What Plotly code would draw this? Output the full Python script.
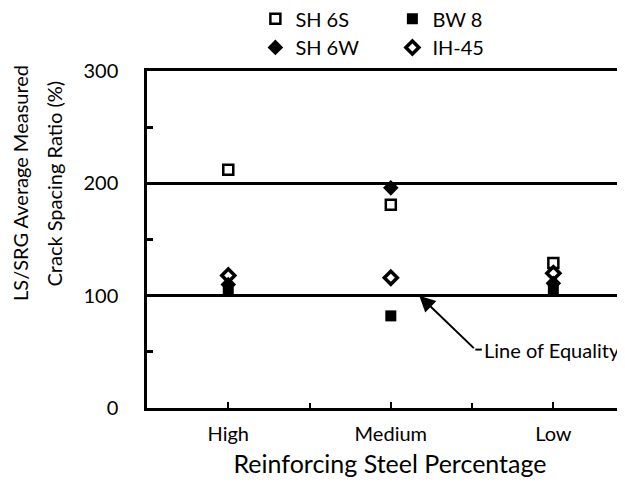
import plotly.graph_objects as go

# data
categories = ["High", "Medium", "Low"]
cat_pos = [1, 2, 3]
sh6s = [212, 181, 129]
bw8 = [106, 82, 106]
sh6w = [110, 196, 111]
ih45 = [118, 116, 120]
y_ticks = [0, 100, 200, 300]

FONT = "Lato"

fig = go.Figure()

def add_series(name, values, symbol, size, legend, line_w=0):
    fig.add_trace(go.Scatter(
        x=cat_pos, y=values, mode="markers", name=name, legend=legend,
        marker=dict(symbol=symbol, size=size, color="black",
                    line=dict(color="black", width=line_w)),
    ))

add_series("SH 6S", sh6s, "square-open", 10, "legend", 2.5)
add_series("BW 8", bw8, "square", 11, "legend")
add_series("SH 6W", sh6w, "diamond", 12, "legend2")
add_series("IH-45", ih45, "diamond-open", 10, "legend2", 3.5)

leg = dict(orientation="h", xanchor="left", yanchor="middle", x=0.223,
           font=dict(family=FONT, size=20, color="black"), bgcolor="rgba(0,0,0,0)",
           entrywidth=92, itemwidth=30, tracegroupgap=0)

# page body adds an 8px offset, so margins are trimmed by 8
fig.update_layout(
    width=625, height=485,
    margin=dict(l=139, r=0, t=63, b=85, autoexpand=False),
    plot_bgcolor="white", paper_bgcolor="white",
    font=dict(family=FONT, color="black"),
    legend=dict(leg, y=1.155),
    legend2=dict(leg, y=1.07),
    xaxis=dict(range=[0.5, 3.49], tickvals=cat_pos, ticktext=categories,
               showgrid=False, zeroline=False, showline=True, mirror=True,
               linecolor="black", linewidth=2.5,
               ticks="inside", ticklen=6, tickwidth=2, tickcolor="black",
               minor=dict(dtick=0.5, tick0=0.5, ticks="inside", ticklen=5,
                          tickwidth=1.5, tickcolor="black"),
               tickfont=dict(size=20), ticklabelstandoff=6,
               title=dict(text="Reinforcing Steel Percentage", font=dict(size=25), standoff=12)),
    yaxis=dict(range=[0, 300], tickvals=y_ticks, showgrid=True, gridcolor="black",
               gridwidth=2.5, zeroline=False, showline=True, linecolor="black",
               linewidth=2.5, ticks="", tickfont=dict(size=20), ticklabelstandoff=22,
               minor=dict(tickvals=[50, 150, 250], ticks="inside", ticklen=6,
                          tickwidth=2.5, tickcolor="black", showgrid=False)),
    showlegend=True,
)

# y-axis title as two rotated lines
fig.add_annotation(text="LS/SRG Average Measured", xref="paper", yref="paper",
                   x=(22 - 147) / 478, y=(408 - 183) / 337, textangle=-90,
                   showarrow=False, font=dict(size=20), xanchor="center", yanchor="middle")
fig.add_annotation(text="Crack Spacing Ratio (%)", xref="paper", yref="paper",
                   x=(56 - 147) / 478, y=(408 - 183) / 337, textangle=-90,
                   showarrow=False, font=dict(size=20), xanchor="center", yanchor="middle")

# Line of Equality callout
fig.add_annotation(x=2.175, y=100, ax=2.52, ay=52, xref="x", yref="y", axref="x", ayref="y",
                   text="", showarrow=True, arrowhead=2, arrowsize=1.6, arrowwidth=2,
                   arrowcolor="black")
fig.add_shape(type="line", x0=2.52, x1=2.56, y0=52, y1=52, xref="x", yref="y",
              line=dict(color="black", width=2))
fig.add_annotation(x=2.56, y=52, xref="x", yref="y", text="Line of Equality",
                   showarrow=False, xanchor="left", yanchor="middle", font=dict(size=20))

fig.write_html("out.html")
